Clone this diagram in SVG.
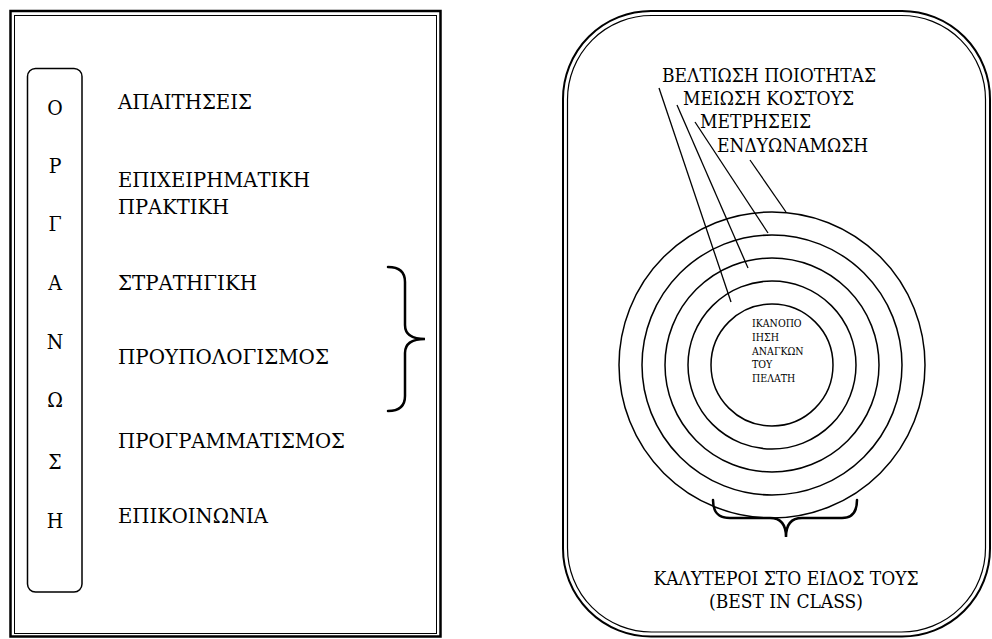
<svg xmlns="http://www.w3.org/2000/svg" width="992" height="639" viewBox="0 0 992 639">
<style>
.t{font-family:"DejaVu Serif Condensed","DejaVu Serif","Liberation Serif",serif;font-stretch:condensed;font-size:19px;fill:#000}
.L{font-size:20.5px}
.B{font-size:21px}
.s{font-family:"DejaVu Serif Condensed","DejaVu Serif","Liberation Serif",serif;font-stretch:condensed;font-size:10.5px;fill:#000}
.ln{fill:none;stroke:#000;stroke-width:1.3}
.br{fill:none;stroke:#000;stroke-width:2.5;stroke-linecap:round}
.c{fill:none;stroke:#000;stroke-width:1.5}
</style>
<rect width="992" height="639" fill="#fff"/>
<g id="left-panel">
<rect x="10.5" y="11" width="430" height="625.5" fill="none" stroke="#000" stroke-width="2.5"/>
<rect x="14.5" y="15.5" width="422" height="618" fill="none" stroke="#000" stroke-width="1"/>
</g>
<g id="organosi">
<rect x="27.5" y="68.5" width="54.5" height="523.5" rx="8" fill="none" stroke="#000" stroke-width="1.5"/>
<g class="t B" text-anchor="middle">
<text x="55" y="115">Ο</text>
<text x="55" y="173">Ρ</text>
<text x="55" y="231">Γ</text>
<text x="55" y="290">Α</text>
<text x="55" y="349">Ν</text>
<text x="55" y="407">Ω</text>
<text x="55" y="469">Σ</text>
<text x="55" y="528">Η</text>
</g>
</g>
<g id="items" class="t L">
<text x="118" y="109" textLength="134" lengthAdjust="spacingAndGlyphs">ΑΠΑΙΤΗΣΕΙΣ</text>
<text x="118" y="187" textLength="192" lengthAdjust="spacingAndGlyphs">ΕΠΙΧΕΙΡΗΜΑΤΙΚΗ</text>
<text x="118" y="214" textLength="111" lengthAdjust="spacingAndGlyphs">ΠΡΑΚΤΙΚΗ</text>
<text x="118" y="290" textLength="139" lengthAdjust="spacingAndGlyphs">ΣΤΡΑΤΗΓΙΚΗ</text>
<text x="118" y="364" textLength="211" lengthAdjust="spacingAndGlyphs">ΠΡΟΥΠΟΛΟΓΙΣΜΟΣ</text>
<text x="118" y="448" textLength="227" lengthAdjust="spacingAndGlyphs">ΠΡΟΓΡΑΜΜΑΤΙΣΜΟΣ</text>
<text x="118" y="523" textLength="150" lengthAdjust="spacingAndGlyphs">ΕΠΙΚΟΙΝΩΝΙΑ</text>
</g>
<g id="left-brace">
<path class="br" d="M388,267 C400,267 405,272 405,282 L405,325 C405,334 411,339 425,339 C411,339 405,344 405,353 L405,396 C405,406 400,411 388,411"/>
</g>
<g id="right-panel">
<rect x="563" y="11" width="427" height="625.5" rx="88" fill="none" stroke="#000" stroke-width="2"/>
<rect x="567.5" y="15.5" width="418" height="616.5" rx="84" fill="none" stroke="#000" stroke-width="1.2"/>
</g>
<g id="circles">
<circle class="c" cx="772" cy="365" r="153"/>
<circle class="c" cx="772" cy="365" r="130"/>
<circle class="c" cx="772" cy="365" r="107"/>
<circle class="c" cx="772" cy="365" r="84"/>
<circle class="c" cx="772" cy="365" r="61"/>
</g>
<g id="center-text" class="s">
<text x="752" y="327">ΙΚΑΝΟΠΟ</text>
<text x="752" y="341">ΙΗΣΗ</text>
<text x="752" y="355">ΑΝΑΓΚΩΝ</text>
<text x="752" y="368">ΤΟΥ</text>
<text x="752" y="382">ΠΕΛΑΤΗ</text>
</g>
<g id="labels" class="t">
<text x="662" y="82">ΒΕΛΤΙΩΣΗ ΠΟΙΟΤΗΤΑΣ</text>
<text x="683" y="105">ΜΕΙΩΣΗ ΚΟΣΤΟΥΣ</text>
<text x="700" y="128">ΜΕΤΡΗΣΕΙΣ</text>
<text x="717" y="152">ΕΝΔΥΩΝΑΜΩΣΗ</text>
</g>
<g id="connectors">
<line class="ln" x1="659" y1="88" x2="731" y2="302"/>
<line class="ln" x1="677" y1="105" x2="748" y2="268"/>
<line class="ln" x1="695" y1="122" x2="768" y2="233"/>
<line class="ln" x1="750" y1="160" x2="786" y2="212"/>
</g>
<g id="bottom-brace">
<path class="br" d="M713,500 C713,512 718,518 730,518 L770,518 C780,518 786,524 786,537 C786,524 792,518 802,518 L842,518 C852,518 857,512 857,500"/>
</g>
<g id="bottom-text" class="t" text-anchor="middle">
<text x="786" y="585">ΚΑΛΥΤΕΡΟΙ ΣΤΟ ΕΙΔΟΣ ΤΟΥΣ</text>
<text x="786" y="608">(BEST IN CLASS)</text>
</g>
</svg>
